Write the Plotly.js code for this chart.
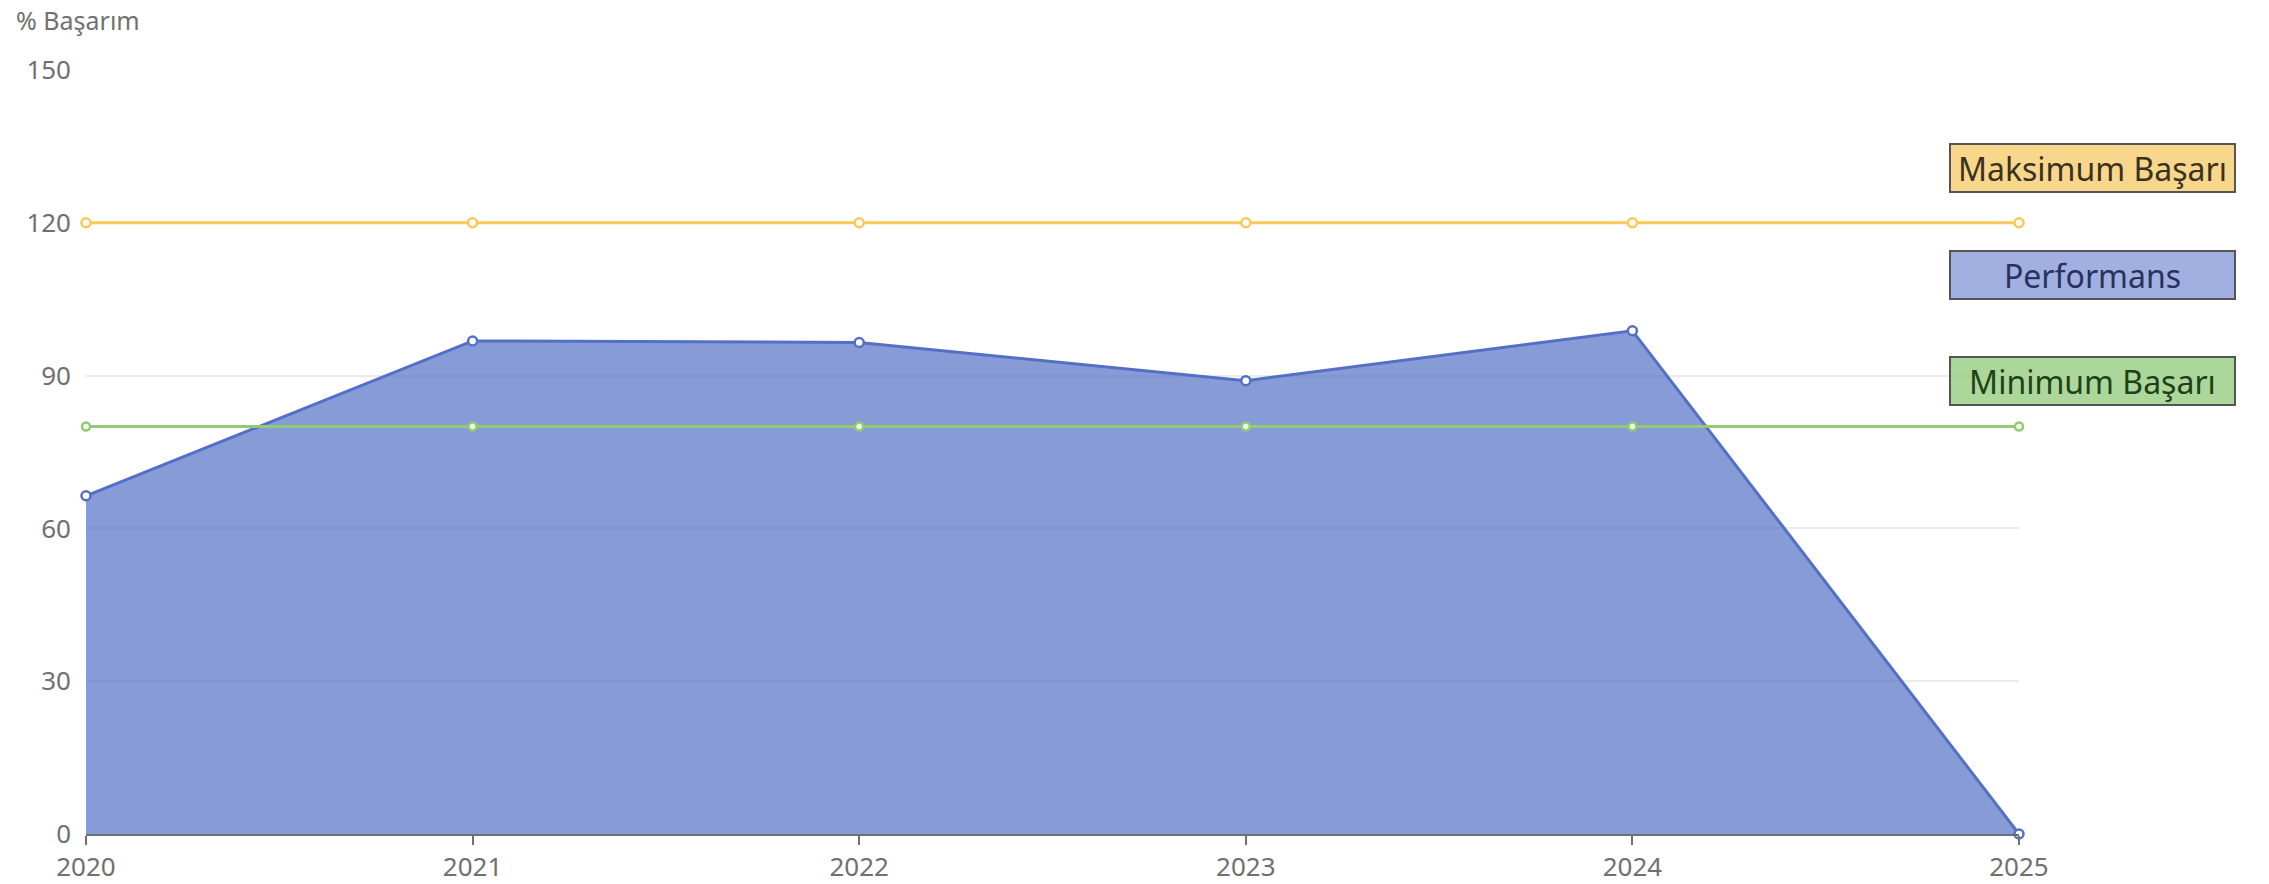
<!DOCTYPE html>
<html>
<head>
<meta charset="utf-8">
<script src="https://cdn.plot.ly/plotly-3.0.1.min.js"></script>
<style>html,body{margin:0;padding:0;background:#fff;}#chart{width:2269px;height:884px;}</style>
</head>
<body>
<div id="chart"></div>
<script>
const years = [2020, 2021, 2022, 2023, 2024, 2025];
const performans = [66.4, 96.8, 96.5, 89.0, 98.8, 0];
const maksimum = [120, 120, 120, 120, 120, 120];
const minimum = [80, 80, 80, 80, 80, 80];
const yTicks = [0, 30, 60, 90, 120, 150];
const seriesNames = ['Performans', 'Maksimum Başarı', 'Minimum Başarı'];
const axisTitle = '% Başarım';

const FONT = 'Noto Sans, Open Sans, sans-serif';
const traces = [
  {
    x: years, y: performans, name: seriesNames[0], type: 'scatter', mode: 'lines+markers',
    fill: 'tozeroy', fillcolor: 'rgba(84,112,198,0.7)',
    line: {color: '#5470c6', width: 3},
    marker: {symbol: 'circle', size: 9, color: '#ffffff', line: {color: '#5470c6', width: 2.5}},
    cliponaxis: false
  },
  {
    x: years, y: maksimum, name: seriesNames[1], type: 'scatter', mode: 'lines+markers',
    line: {color: '#fac858', width: 3},
    marker: {symbol: 'circle', size: 9, color: '#ffffff', line: {color: '#fac858', width: 2.5}},
    cliponaxis: false
  },
  {
    x: years, y: minimum, name: seriesNames[2], type: 'scatter', mode: 'lines+markers',
    line: {color: '#91cc75', width: 3},
    marker: {symbol: 'circle', size: 8, color: '#f4ffe8', line: {color: '#91cc75', width: 2.5}},
    cliponaxis: false
  }
];

const boxStyle = [
  {bg: 'rgba(245,200,100,0.75)', fc: '#3a3220', y: 0.872},
  {bg: 'rgba(84,112,198,0.55)', fc: '#27335e', y: 0.732},
  {bg: 'rgba(140,200,115,0.72)', fc: '#1f4119', y: 0.593}
];
const labelOrder = [1, 0, 2];
const annotations = labelOrder.map((si, k) => ({
  xref: 'paper', yref: 'paper', x: 1.038, y: boxStyle[k].y,
  xanchor: 'center', yanchor: 'middle', showarrow: false,
  text: seriesNames[si],
  font: {family: FONT, size: 32, color: boxStyle[k].fc},
  bgcolor: boxStyle[k].bg, bordercolor: '#555555', borderwidth: 2,
  width: 281, height: 44, borderpad: 1
}));
annotations.push({
  xref: 'paper', yref: 'paper', x: -0.037, y: 1.065, xanchor: 'left', yanchor: 'middle',
  showarrow: false, text: axisTitle,
  font: {family: FONT, size: 25, color: '#707070'}
});

const layout = {
  width: 2269, height: 884,
  margin: {l: 86, r: 250, t: 70, b: 50},
  paper_bgcolor: '#ffffff', plot_bgcolor: '#ffffff',
  showlegend: false,
  font: {family: FONT, size: 26, color: '#707070'},
  xaxis: {
    type: 'linear', range: [2020, 2025], tickvals: years, ticktext: years.map(String),
    showgrid: false, zeroline: false, showline: true, linecolor: '#6E7079', linewidth: 2,
    ticks: 'outside', ticklen: 9, tickcolor: '#6E7079', tickwidth: 2,
    tickfont: {family: FONT, size: 26, color: '#707070'}
  },
  yaxis: {
    range: [0, 150], tickvals: yTicks, showgrid: true, gridcolor: '#ebebeb', gridwidth: 2,
    zeroline: false, showline: false, ticks: '', ticklabelstandoff: 14,
    tickfont: {family: FONT, size: 26, color: '#707070'}
  },
  annotations: annotations
};

Plotly.newPlot('chart', traces, layout, {displayModeBar: false, staticPlot: true});
</script>
</body>
</html>
